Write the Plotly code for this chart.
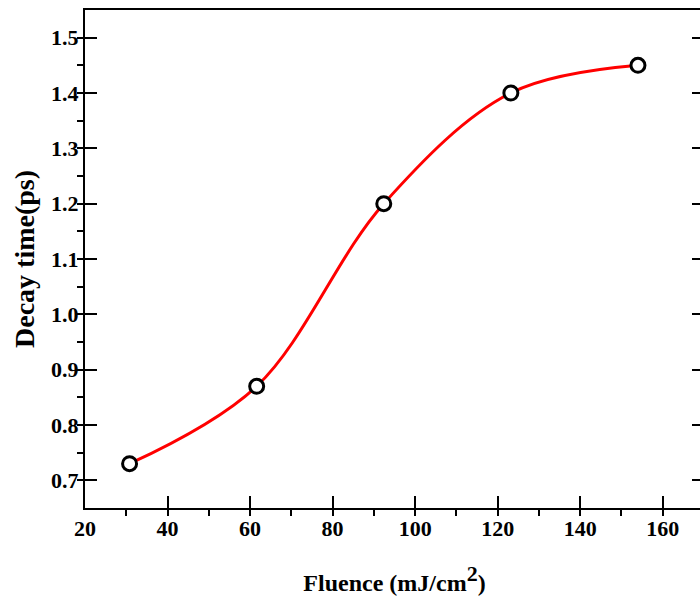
import plotly.graph_objects as go

fluence = [30.8, 61.6, 92.4, 123.2, 154.0]
decay_time = [0.73, 0.87, 1.20, 1.40, 1.45]
x_tick_vals = [20, 40, 60, 80, 100, 120, 140, 160]
y_tick_vals = [0.7, 0.8, 0.9, 1.0, 1.1, 1.2, 1.3, 1.4, 1.5]
x_range = [20, 170]
y_range = [0.65, 1.55]

font_family = "Liberation Serif, Times New Roman, serif"

fig = go.Figure()
fig.add_trace(go.Scatter(
    x=fluence, y=decay_time, mode="lines",
    line=dict(color="#ff0000", width=3, shape="spline", smoothing=1.0),
    showlegend=False, hoverinfo="skip"))
fig.add_trace(go.Scatter(
    x=fluence, y=decay_time, mode="markers",
    marker=dict(symbol="circle", size=14, color="white",
                line=dict(color="black", width=3)),
    showlegend=False))

tickfont = dict(family=font_family, size=22, color="black", weight="bold")

fig.update_layout(
    xaxis=dict(
        range=x_range, tickvals=x_tick_vals,
        showline=True, linecolor="black", linewidth=2, mirror=True,
        ticks="inside", ticklen=12, tickwidth=2, tickcolor="black",
        minor=dict(dtick=10, ticks="outside", ticklen=6, tickwidth=2, tickcolor="black", showgrid=False),
        showgrid=False, zeroline=False, automargin=False, tickfont=tickfont,
        title=dict(text="<b>Fluence (mJ/cm<sup><span style='font-size:22px'>2</span></sup>)</b>", standoff=34,
                   font=dict(family=font_family, size=24, color="black")),
    ),
    xaxis2=dict(
        overlaying="x", side="top", range=x_range, tickvals=x_tick_vals,
        showline=False, showticklabels=False,
        ticks="inside", ticklen=12, tickwidth=2, tickcolor="black",
        minor=dict(dtick=10, ticks="inside", ticklen=5, tickwidth=2, tickcolor="black", showgrid=False),
        showgrid=False, zeroline=False, automargin=False,
    ),
    yaxis=dict(
        range=y_range, tickvals=y_tick_vals, ticktext=[f"{v:.1f}" for v in y_tick_vals],
        showline=True, linecolor="black", linewidth=2, mirror="allticks",
        ticks="inside", ticklen=12, tickwidth=2, tickcolor="black",
        minor=dict(dtick=0.05, ticks="outside", ticklen=6, tickwidth=2, tickcolor="black", showgrid=False),
        showgrid=False, zeroline=False, automargin=False, tickfont=tickfont,
        title=dict(text="<b>Decay time(ps)</b>", standoff=8,
                   font=dict(family=font_family, size=28, color="black")),
    ),
    width=704, height=604,
    margin=dict(l=85, r=0, t=10, b=96),
    plot_bgcolor="white", paper_bgcolor="white",
)

fig.write_html("out.html", config={"displayModeBar": False},
               post_script="document.body.style.margin='0';document.body.style.overflow='hidden';")
